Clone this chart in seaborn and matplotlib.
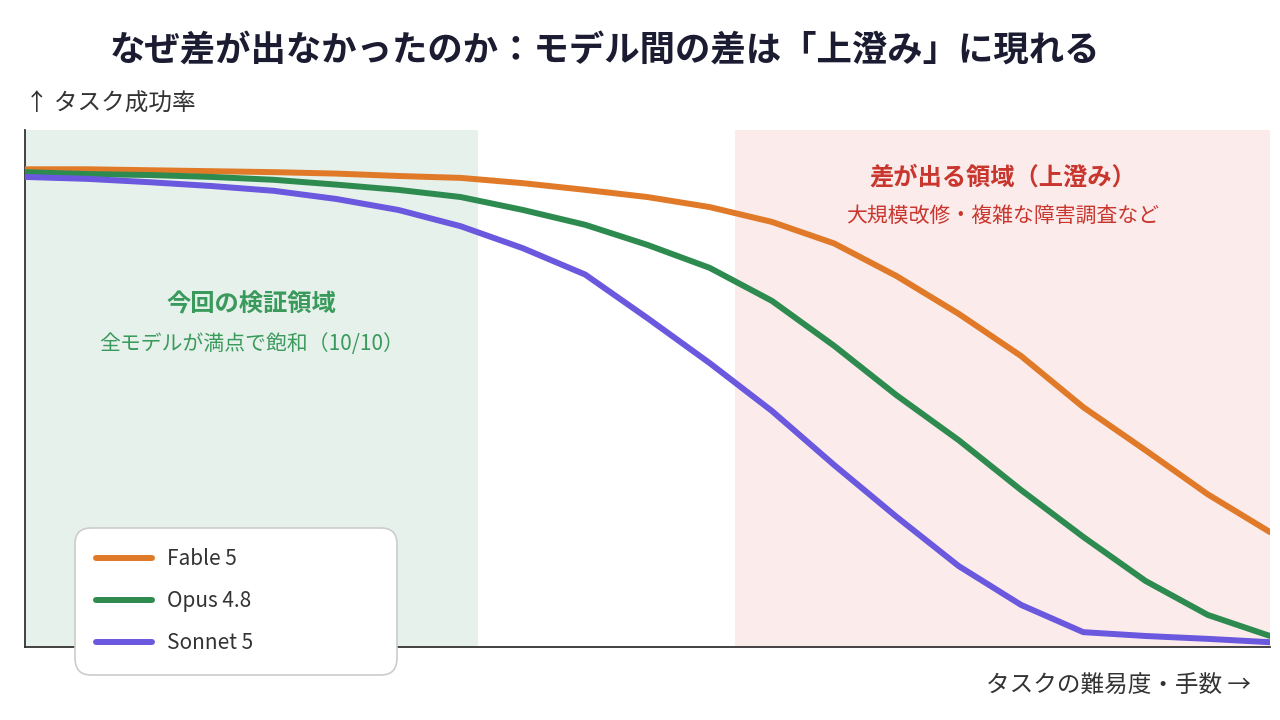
import matplotlib
matplotlib.use("Agg")
import matplotlib.pyplot as plt
import seaborn as sns
import pandas as pd

# difficulty axis (arbitrary units, 0 = easy, 10 = hardest)
difficulty = [0.0, 0.5, 1.0, 1.5, 2.0, 2.5, 3.0, 3.5, 4.0, 4.5, 5.0,
              5.5, 6.0, 6.5, 7.0, 7.5, 8.0, 8.5, 9.0, 9.5, 10.0]

# task success rate
fable5 = [0.998, 0.998, 0.996, 0.994, 0.992, 0.989, 0.984, 0.980, 0.969, 0.955, 0.940,
          0.919, 0.888, 0.843, 0.775, 0.696, 0.608, 0.501, 0.411, 0.319, 0.240]
opus48 = [0.992, 0.988, 0.986, 0.982, 0.976, 0.966, 0.955, 0.940, 0.913, 0.882, 0.840,
          0.792, 0.723, 0.629, 0.526, 0.432, 0.328, 0.230, 0.138, 0.067, 0.023]
sonnet5 = [0.982, 0.978, 0.971, 0.963, 0.953, 0.936, 0.913, 0.879, 0.833, 0.778, 0.687,
           0.593, 0.493, 0.380, 0.272, 0.169, 0.088, 0.031, 0.023, 0.017, 0.010]

models = ["Fable 5", "Opus 4.8", "Sonnet 5"]
colors = ["#E07A28", "#2E8B50", "#6A58DE"]

# regions on the difficulty axis
tested_region = (0.0, 3.64)
gap_region = (5.70, 10.0)

title = "なぜ差が出なかったのか：モデル間の差は「上澄み」に現れる"
ylabel = "↑ タスク成功率"
xlabel = "タスクの難易度・手数 →"
tested_title = "今回の検証領域"
tested_note = "全モデルが満点で飽和（10/10）"
gap_title = "差が出る領域（上澄み）"
gap_note = "大規模改修・複雑な障害調査など"

df = pd.DataFrame({
    "difficulty": difficulty * 3,
    "success": fable5 + opus48 + sonnet5,
    "model": [m for m in models for _ in difficulty],
})

sns.set_style("white")
plt.rcParams["font.family"] = ["Noto Sans CJK JP", "DejaVu Sans"]

fig = plt.figure(figsize=(12.8, 7.2), dpi=100)
ax = fig.add_axes([0.0195, 0.1014, 0.9727, 0.718])

ax.axvspan(*tested_region, color="#E7F1EB", zorder=0, lw=0)
ax.axvspan(*gap_region, color="#FCEBEB", zorder=0, lw=0)

sns.lineplot(data=df, x="difficulty", y="success", hue="model",
             palette=dict(zip(models, colors)), linewidth=4.3, ax=ax,
             legend=True, zorder=3)

ax.set_xlim(0, 10)
ax.set_ylim(0, 1.08)
ax.set_xticks([])
ax.set_yticks([])
ax.set_xlabel("")
ax.set_ylabel("")
for side in ["top", "right"]:
    ax.spines[side].set_visible(False)
for side in ["left", "bottom"]:
    ax.spines[side].set_color("#333333")
    ax.spines[side].set_linewidth(1.3)
    ax.spines[side].set_zorder(2)

# region annotations
cx = sum(tested_region) / 2
ax.text(cx, 0.715, tested_title, ha="center", va="center", fontsize=17.5,
        fontweight="bold", color="#3A9A5C")
ax.text(cx, 0.632, tested_note, ha="center", va="center", fontsize=15,
        color="#3A9A5C")
gx = sum(gap_region) / 2
ax.text(gx, 0.980, gap_title, ha="center", va="center", fontsize=17.5,
        fontweight="bold", color="#C8362E")
ax.text(gx, 0.900, gap_note, ha="center", va="center", fontsize=15,
        color="#C8362E")

handles, labels = ax.get_legend_handles_labels()
leg = ax.legend(handles, labels, loc="lower left",
                bbox_to_anchor=(0.040, -0.054, 0.259, 0.27), mode="expand",
                borderaxespad=0, fontsize=15, handlelength=2.7,
                handletextpad=0.75, labelspacing=0.95, borderpad=1.0,
                frameon=True, fancybox=True, framealpha=1.0,
                edgecolor="#CCCCCC", facecolor="white")
leg.get_frame().set_boxstyle("round,pad=0,rounding_size=0.8")
leg.get_frame().set_linewidth(1.2)
leg.set_zorder(5)
for line in leg.get_lines():
    line.set_linewidth(4.3)
for t in leg.get_texts():
    t.set_color("#333333")

fig.text(0.473, 0.930, title, ha="center", va="center", fontsize=25.5,
         fontweight="bold", color="#1B1B32")
fig.text(0.0195, 0.855, ylabel, ha="left", va="center", fontsize=17,
         color="#333333")
fig.text(0.977, 0.047, xlabel, ha="right", va="center", fontsize=17,
         color="#333333")

fig.savefig("out.png", dpi=100)
